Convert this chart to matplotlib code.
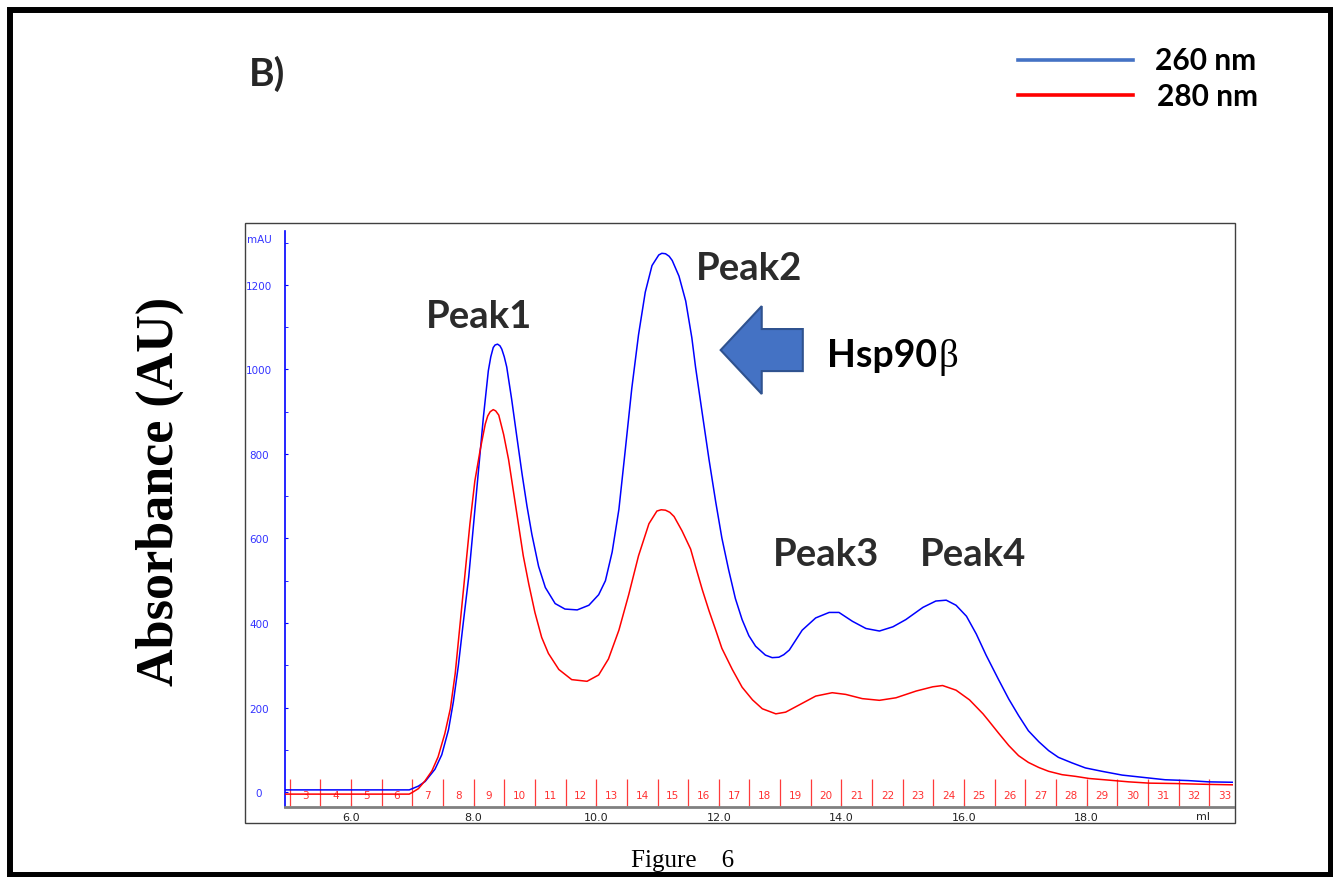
import matplotlib
matplotlib.use("Agg")
import matplotlib.pyplot as plt
from matplotlib.patches import Rectangle, FancyArrow
from matplotlib.lines import Line2D

# 读取自图片的色谱数据 (ml, mAU)
blue_ml = [4.92, 6.95, 7.00, 7.10, 7.21, 7.37, 7.48, 7.59, 7.67, 7.75, 7.83, 7.92,
           8.00, 8.08, 8.16, 8.24, 8.28, 8.32, 8.35, 8.39, 8.43, 8.46, 8.50, 8.54,
           8.62, 8.70, 8.79, 8.87, 8.95, 9.06, 9.17, 9.33, 9.49, 9.69, 9.88, 10.04,
           10.15, 10.26, 10.37, 10.47, 10.58, 10.69, 10.80, 10.91, 11.02, 11.07, 11.13,
           11.19, 11.24, 11.35, 11.46, 11.56, 11.62, 11.73, 11.84, 11.95, 12.05, 12.16,
           12.27, 12.38, 12.49, 12.60, 12.76, 12.87, 12.98, 13.06, 13.15, 13.36, 13.58,
           13.80, 13.96, 14.18, 14.40, 14.62, 14.84, 15.05, 15.33, 15.54, 15.71, 15.87,
           16.04, 16.20, 16.36, 16.56, 16.73, 16.89, 17.05, 17.22, 17.38, 17.54, 17.76,
           17.98, 18.25, 18.58, 18.96, 19.28, 19.66, 19.99, 20.39]
blue_mau = [5, 5, 8, 14, 25, 54, 88, 147, 214, 298, 399, 509,
            635, 762, 888, 997, 1030, 1052, 1058, 1060, 1056, 1048, 1030, 1006,
            930, 846, 753, 677, 610, 534, 484, 446, 433, 431, 442, 467,
            500, 568, 669, 804, 955, 1082, 1183, 1246, 1271, 1275, 1274,
            1268, 1258, 1221, 1162, 1075, 1006, 896, 787, 686, 601, 526,
            458, 408, 370, 345, 324, 318, 319, 325, 336, 383, 412,
            425, 425, 404, 387, 381, 391, 408, 437, 452, 454, 442,
            416, 374, 324, 267, 220, 181, 145, 119, 98, 82, 69,
            57, 49, 40, 34, 29, 27, 24, 23]

red_ml = [4.92, 6.95, 7.00, 7.10, 7.21, 7.32, 7.42, 7.53, 7.62, 7.70, 7.78, 7.86,
          7.94, 8.02, 8.11, 8.19, 8.23, 8.27, 8.32, 8.36, 8.41, 8.49, 8.57, 8.65,
          8.73, 8.81, 8.90, 9.00, 9.11, 9.22, 9.39, 9.60, 9.85, 10.04, 10.20, 10.37,
          10.53, 10.69, 10.86, 10.99, 11.06, 11.13, 11.20, 11.27, 11.40, 11.54, 11.62,
          11.73, 11.84, 11.95, 12.05, 12.22, 12.38, 12.55, 12.71, 12.93, 13.09, 13.31,
          13.58, 13.85, 14.07, 14.34, 14.62, 14.89, 15.22, 15.49, 15.65, 15.87, 16.09,
          16.31, 16.40, 16.56, 16.73, 16.89, 17.05, 17.22, 17.38, 17.60, 17.82, 18.04,
          18.37, 18.69, 19.02, 19.46, 20.00, 20.39]
red_mau = [-5, -5, -1, 8, 27, 50, 83, 138, 197, 281, 399, 517,
           635, 736, 812, 871, 890, 900, 905, 902, 892, 846, 787, 711,
           635, 559, 492, 425, 366, 328, 290, 266, 262, 277, 315, 383,
           467, 559, 635, 665, 668, 667, 662, 652, 618, 575, 534,
           479, 429, 383, 340, 290, 248, 218, 197, 185, 189, 206,
           227, 235, 231, 221, 217, 223, 239, 249, 252, 241, 218,
           185, 169, 140, 110, 86, 70, 58, 49, 41, 37, 32,
           28, 24, 21, 20, 18, 17]

# 馏分编号
frac_numbers = list(range(3, 34))
frac_start = 5.0
frac_width = 0.5

xticks = [6, 8, 10, 12, 14, 16, 18]
xtick_labels = ["6.0", "8.0", "10.0", "12.0", "14.0", "16.0", "18.0"]
yticks = [0, 200, 400, 600, 800, 1000, 1200]

fig = plt.figure(figsize=(13.33, 8.78), dpi=100)
W, H = 1333, 878

# 主图区域 (像素位置换算)
ax = fig.add_axes([285 / W, (H - 808) / H, (1233 - 285) / W, (808 - 232) / H])
ax.set_xlim(4.923, 20.388)
ax.set_ylim(-35.5, 1327.8)
ax.set_facecolor("none")

ax.plot(blue_ml, blue_mau, color="#0000ff", lw=1.1, zorder=3)
ax.plot(red_ml, red_mau, color="#ff0000", lw=1.1, zorder=3)

# 馏分刻度线和编号
bounds = [frac_start + i * frac_width for i in range(len(frac_numbers))]
ax.vlines(bounds, -33, 31, color="#ff3b3b", lw=0.9, zorder=2)
for b, n in zip(bounds, frac_numbers):
    ax.text(b + frac_width / 2, -6, str(n), color="#ff3030", fontsize=7.5,
            ha="center", va="center", family="DejaVu Sans", zorder=2, clip_on=False)

for s in ["top", "right"]:
    ax.spines[s].set_visible(False)
ax.spines["left"].set_color("#0000ff")
ax.spines["left"].set_linewidth(1.2)
ax.spines["bottom"].set_color("#808080")
ax.spines["bottom"].set_linewidth(2)

ax.set_yticks(yticks)
ax.set_yticks(range(0, 1301, 100), minor=True)
ax.tick_params(axis="y", which="both", direction="in", length=2.5, color="#0000ff",
               labelcolor="#3333ff", labelsize=7.5, pad=18.7)
for lab in ax.get_yticklabels():
    lab.set_ha("center")
ax.set_xticks(xticks)
ax.set_xticklabels(xtick_labels)
ax.tick_params(axis="x", direction="in", length=3, color="#808080",
               labelcolor="#222222", labelsize=8, pad=3.5)

# 峰标注
peak_kw = dict(family="Lato", weight="bold", fontsize=27.5, color="#2b2b2b",
               ha="center", va="baseline")
ax.text(8.095, 1100, "Peak1", **peak_kw)
ax.text(12.49, 1214, "Peak2", **peak_kw)
ax.text(13.745, 537, "Peak3", **peak_kw)
ax.text(16.14, 537, "Peak4", **peak_kw)

ax.add_patch(FancyArrow(13.37, 1046, -1.34, 0, width=99.5, head_width=208,
                        head_length=0.67, length_includes_head=True,
                        fc="#4472C4", ec="#2F528F", lw=1.5, zorder=4))
t = ax.text(13.77, 1008, "Hsp90", family="Lato", weight="bold", fontsize=27,
            color="black", ha="left", va="baseline")
fig.canvas.draw()
bb = t.get_window_extent()
bx = ax.transData.inverted().transform((bb.x1 + 1, bb.y0))[0]
ax.text(bx, 1008, "β", family="Liberation Serif", fontsize=28, color="black",
        ha="left", va="baseline")

# 覆盖层: 边框、标题、图例等
ov = fig.add_axes([0, 0, 1, 1])
ov.set_xlim(0, W)
ov.set_ylim(H, 0)
ov.axis("off")
ov.add_patch(Rectangle((10, 10.5), 1320.5, 865.5, fill=False, ec="black", lw=4.3))
ov.add_patch(Rectangle((245, 224), 990, 600, fill=False, ec="#404040", lw=1.0))

ov.text(267, 86, "B)", family="Lato", weight="bold", fontsize=28, color="#262626",
        ha="center", va="baseline")

ov.add_line(Line2D([1018, 1133], [61, 61], color="#4472C4", lw=2.6))
ov.add_line(Line2D([1018, 1133], [96, 96], color="#ff0000", lw=2.6))
ov.text(1155, 70, "260 nm", family="Lato", weight="bold", fontsize=21.5, color="black",
        ha="left", va="baseline")
ov.text(1157, 106, "280 nm", family="Lato", weight="bold", fontsize=21.5, color="black",
        ha="left", va="baseline")

ov.text(160, 491, "Absorbance (AU)", family="Liberation Serif", weight="bold",
        fontsize=37.5, rotation=90, ha="center", va="center", color="black")
ov.text(683, 867, "Figure    6", family="Liberation Serif", fontsize=18,
        ha="center", va="baseline", color="black")

ov.text(259, 240, "mAU", family="DejaVu Sans", fontsize=7.5, color="#3333ff",
        ha="center", va="center")
ov.text(1203, 817, "ml", family="DejaVu Sans", fontsize=8, color="#222222",
        ha="center", va="center")

fig.savefig("out.png", dpi=100)
